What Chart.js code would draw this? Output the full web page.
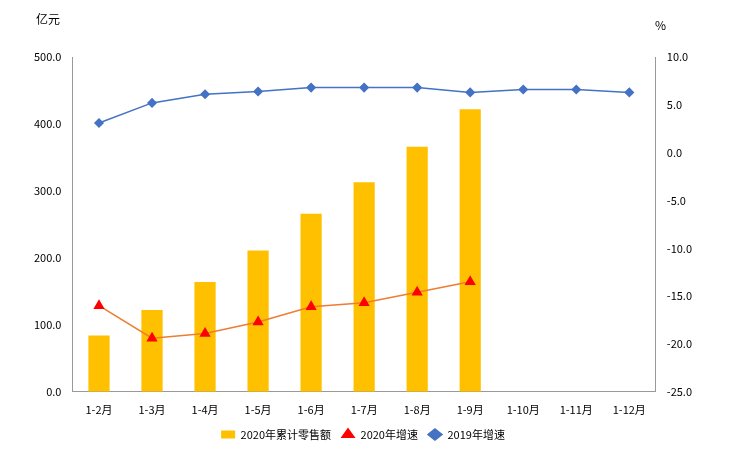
<!DOCTYPE html>
<html>
<head>
<meta charset="utf-8">
<script src="https://cdn.jsdelivr.net/npm/chart.js@4"></script>
<style>
  body { margin: 0; background: #fff; }
  #wrap { position: relative; width: 735px; height: 464px; }
  .unit { position: absolute; font: 12px "Noto Sans CJK SC", sans-serif; color: #000; }
</style>
</head>
<body>
<div id="wrap">
  <canvas id="chart" width="735" height="464"></canvas>
  <div class="unit" style="left:36px;top:10px;">亿元</div>
  <div class="unit" style="left:655px;top:16px;">%</div>
</div>
<script>
const months = ["1-2月", "1-3月", "1-4月", "1-5月", "1-6月", "1-7月", "1-8月", "1-9月", "1-10月", "1-11月", "1-12月"];
const sales2020 = [84, 122, 164, 211, 266, 313, 366, 422, null, null, null];
const growth2020 = [-16.0, -19.4, -18.9, -17.7, -16.1, -15.7, -14.6, -13.5, null, null, null];
const growth2019 = [3.1, 5.2, 6.1, 6.4, 6.8, 6.8, 6.8, 6.3, 6.6, 6.6, 6.3];

const font = { family: "'Noto Sans CJK SC', sans-serif", size: 11 };

new Chart(document.getElementById("chart"), {
  data: {
    labels: months,
    datasets: [
      {
        type: "bar",
        label: "2020年累计零售额",
        data: sales2020,
        backgroundColor: "#ffc000",
        yAxisID: "y",
        barPercentage: 0.4,
        categoryPercentage: 1,
        pointStyle: "rect",
        order: 3
      },
      {
        type: "line",
        label: "2020年增速",
        data: growth2020,
        borderColor: "#ed7d31",
        backgroundColor: "#ff0000",
        pointBorderColor: "#ff0000",
        pointStyle: "triangle",
        pointRadius: 5,
        borderWidth: 1.5,
        yAxisID: "y1",
        order: 1
      },
      {
        type: "line",
        label: "2019年增速",
        data: growth2019,
        borderColor: "#4472c4",
        backgroundColor: "#4472c4",
        pointStyle: "rectRot",
        pointRadius: 4,
        borderWidth: 1.5,
        yAxisID: "y1",
        order: 2
      }
    ]
  },
  options: {
    responsive: false,
    animation: false,
    layout: { padding: { left: 31, right: 40, top: 57, bottom: 14 } },
    plugins: {
      legend: {
        position: "bottom",
        labels: {
          font, color: "#000", usePointStyle: true, pointStyleWidth: 14, boxHeight: 8, padding: 10,
          sort: (a, b) => a.datasetIndex - b.datasetIndex
        }
      },
      tooltip: { enabled: false }
    },
    scales: {
      x: {
        grid: { display: false },
        border: { color: "#999" },
        ticks: { font, color: "#000" }
      },
      y: {
        position: "left",
        min: 0, max: 500,
        ticks: { stepSize: 100, font, color: "#000", callback: v => v.toFixed(1) },
        grid: { display: false },
        border: { color: "#999" }
      },
      y1: {
        position: "right",
        min: -25, max: 10,
        ticks: { stepSize: 5, font, color: "#000", callback: v => v.toFixed(1) },
        grid: { display: false },
        border: { color: "#999" }
      }
    }
  }
});
</script>
</body>
</html>
